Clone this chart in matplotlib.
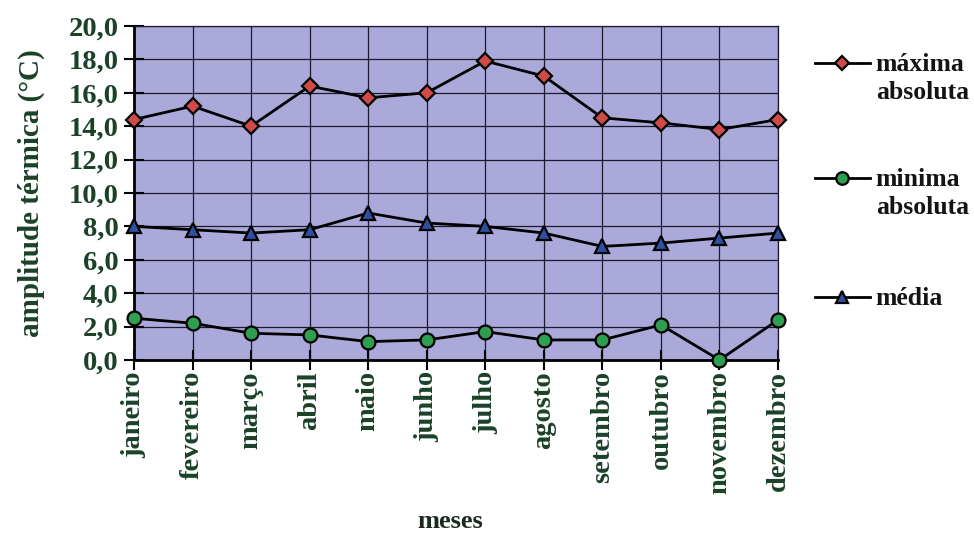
import matplotlib.pyplot as plt
from matplotlib.lines import Line2D

meses = ["janeiro", "fevereiro", "março", "abril", "maio", "junho",
         "julho", "agosto", "setembro", "outubro", "novembro", "dezembro"]
maxima = [14.4, 15.2, 14.0, 16.4, 15.7, 16.0, 17.9, 17.0, 14.5, 14.2, 13.8, 14.4]
minima = [2.5, 2.2, 1.6, 1.5, 1.1, 1.2, 1.7, 1.2, 1.2, 2.1, 0.0, 2.4]
media = [8.0, 7.8, 7.6, 7.8, 8.8, 8.2, 8.0, 7.6, 6.8, 7.0, 7.3, 7.6]
yticks = [0, 2, 4, 6, 8, 10, 12, 14, 16, 18, 20]
ytick_labels = ["0,0", "2,0", "4,0", "6,0", "8,0", "10,0", "12,0", "14,0", "16,0", "18,0", "20,0"]

plt.rcParams['font.family'] = 'Liberation Serif'
plt.rcParams['font.weight'] = 'bold'
green_txt = "#1b4229"

fig = plt.figure(figsize=(9.74, 5.38), dpi=100)
ax = fig.add_axes([0.1376, 0.3309, 0.6612, 0.6208])
ax.set_facecolor("#aba9da")

x = list(range(len(meses)))
series = [
  (maxima, "D", "#d04a4a", 8, "máxima\nabsoluta"),
  (minima, "o", "#2e9e50", 10, "minima\nabsoluta"),
  (media, "^", "#2f4fa0", 10, "média"),
]
for vals, mk, fc, ms, lab in series:
  ax.plot(x, vals, '-', color="black", lw=2, marker=mk, markersize=ms,
          markerfacecolor=fc, markeredgecolor="black", markeredgewidth=1.6,
          clip_on=False, zorder=3)

ax.set_xlim(0, 11)
ax.set_ylim(0, 20)
ax.set_yticks(yticks)
ax.set_yticklabels(ytick_labels, fontsize=20.5, color=green_txt, fontweight='bold')
ax.set_xticks(x)
ax.set_xticklabels(meses, rotation=90, fontsize=20.5, color=green_txt, fontweight='bold')
ax.grid(True, color="#1a1a2a", lw=0.9)
ax.set_axisbelow(True)
ax.tick_params(axis='y', direction='inout', length=14, width=1.5, pad=4)
ax.tick_params(axis='x', direction='inout', length=14, width=1.5, pad=1)
for s in ['left', 'bottom']:
  ax.spines[s].set_linewidth(2)
for s in ['top', 'right']:
  ax.spines[s].set_linewidth(0.9)
  ax.spines[s].set_color("#1a1a2a")

ax.set_ylabel("amplitude térmica (°C)", fontsize=21, color=green_txt, fontweight='bold', labelpad=17)
fig.text(0.462, 0.03, "meses", fontsize=19, color="#1a2a20", fontweight='bold', ha='center', va='center')

# legend drawn by hand so the marker lines up with the first text line
leg_y = [0.883, 0.669, 0.448]
for (vals, mk, fc, ms, lab), yy in zip(series, leg_y):
  fig.add_artist(Line2D([0.837, 0.893], [yy, yy], transform=fig.transFigure, color="black", lw=2))
  fig.add_artist(Line2D([0.864], [yy], transform=fig.transFigure, marker=mk, markersize=ms - 1,
                        markerfacecolor=fc, markeredgecolor="black", markeredgewidth=1.6))
  fig.text(0.899, yy + 0.018, lab, fontsize=18.5, color="#141414", fontweight='bold',
           ha='left', va='top', linespacing=1.25)

plt.savefig("out.png", dpi=100)
